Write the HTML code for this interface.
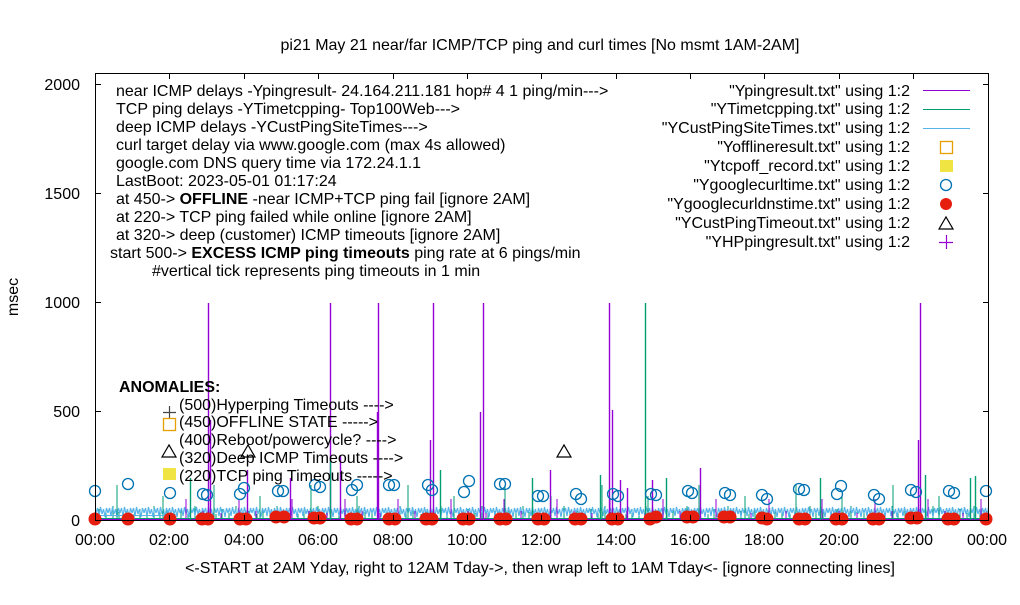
<!DOCTYPE html>
<html><head><meta charset="utf-8"><style>
body{margin:0;background:#fff}
svg{font-family:"Liberation Sans",sans-serif;font-size:16px}
</style></head><body>
<svg width="1020" height="600" xmlns="http://www.w3.org/2000/svg">
<defs>
<pattern id="pg" x="0" y="461" width="41" height="60" patternUnits="userSpaceOnUse">
<path d="M3 60V50M11 60V53M17 60V48M24 60V52M31 60V45M37 60V51" stroke="#009e73" stroke-width="1"/>
</pattern>
<pattern id="pg2" x="0" y="461" width="97" height="60" patternUnits="userSpaceOnUse">
<path d="M20 60V24M66 60V35" stroke="#009e73" stroke-width="1"/>
</pattern>
<pattern id="pc" x="0" y="461" width="12" height="60" patternUnits="userSpaceOnUse">
<path d="M0 52 L1.5 47 L3 55 L4.5 46 L6 53 L7.5 48 L9 56 L10.5 47 L12 52" fill="none" stroke="#56b4e9" stroke-width="1.2"/>
</pattern>
<pattern id="pp" x="0" y="461" width="53" height="60" patternUnits="userSpaceOnUse">
<path d="M9 60V52M27 60V38M44 60V50" stroke="#9400d3" stroke-width="1"/>
</pattern>
</defs>
<rect width="1020" height="600" fill="#fff"/>
<!-- noise bands -->
<rect x="96" y="461" width="892" height="60" fill="url(#pg)"/>
<rect x="96" y="461" width="892" height="60" fill="url(#pc)"/>
<rect x="96" y="461" width="892" height="60" fill="url(#pg2)"/>
<rect x="180" y="461" width="808" height="60" fill="url(#pp)"/>
<line x1="96" y1="515.5" x2="170" y2="515.5" stroke="#56b4e9"/>
<line x1="96" y1="518.5" x2="988" y2="518.5" stroke="#009e73"/>
<line x1="96" y1="519.5" x2="988" y2="519.5" stroke="#9400d3"/>
<!-- spikes -->
<g stroke-width="1.4">
<g stroke="#9400d3">
<path d="M208.5 521V303M330.5 521V303M378.5 521V303M433.5 521V303M483.5 521V303M609.5 521V303M920.5 521V303"/>
<path d="M480.5 521V412M210.5 521V420M377.5 521V412M247.5 521V470M290.5 521V478M340.5 521V455M550.5 521V470M700.5 521V468M430.5 521V440M612.5 521V410M918.5 521V440M652.5 521V480M620.5 521V480M627.5 521V488"/>
</g>
<g stroke="#009e73">
<path d="M645.5 521V303M330.5 521V460M440.5 521V470M975.5 521V476M925.5 521V475M190.5 521V478M600.5 521V475M820.5 521V478M970.5 521V478M532.5 521V478M666.5 521V478"/>
</g>
</g>
<!-- blue circles -->
<g fill="none" stroke="#0072b2" stroke-width="1.3">
<circle cx="95" cy="491" r="5.5"/><circle cx="128" cy="484" r="5.5"/><circle cx="170" cy="493" r="5.5"/><circle cx="203" cy="494" r="5.5"/><circle cx="207" cy="495" r="5.5"/>
<circle cx="240" cy="494" r="5.5"/><circle cx="244" cy="488" r="5.5"/><circle cx="278" cy="491" r="5.5"/><circle cx="283" cy="491" r="5.5"/><circle cx="315" cy="485" r="5.5"/><circle cx="320" cy="487" r="5.5"/>
<circle cx="352" cy="490" r="5.5"/><circle cx="357" cy="485" r="5.5"/><circle cx="389" cy="485" r="5.5"/><circle cx="394" cy="485" r="5.5"/><circle cx="428" cy="485" r="5.5"/><circle cx="432" cy="490" r="5.5"/>
<circle cx="464" cy="492" r="5.5"/><circle cx="469" cy="481" r="5.5"/><circle cx="500" cy="484" r="5.5"/><circle cx="505" cy="484" r="5.5"/><circle cx="538" cy="496" r="5.5"/><circle cx="543" cy="496" r="5.5"/>
<circle cx="576" cy="494" r="5.5"/><circle cx="581" cy="499" r="5.5"/><circle cx="613" cy="494" r="5.5"/><circle cx="618" cy="496" r="5.5"/><circle cx="651" cy="494" r="5.5"/><circle cx="656" cy="495" r="5.5"/>
<circle cx="688" cy="491" r="5.5"/><circle cx="692" cy="493" r="5.5"/><circle cx="725" cy="493" r="5.5"/><circle cx="730" cy="495" r="5.5"/><circle cx="762" cy="495" r="5.5"/><circle cx="767" cy="499" r="5.5"/>
<circle cx="799" cy="489" r="5.5"/><circle cx="804" cy="490" r="5.5"/><circle cx="837" cy="494" r="5.5"/><circle cx="841" cy="486" r="5.5"/><circle cx="874" cy="495" r="5.5"/><circle cx="879" cy="499" r="5.5"/>
<circle cx="911" cy="490" r="5.5"/><circle cx="916" cy="492" r="5.5"/><circle cx="949" cy="491" r="5.5"/><circle cx="954" cy="493" r="5.5"/><circle cx="986" cy="491" r="5.5"/>
</g>
<!-- red dots -->
<g fill="#e51e10">
<circle cx="95" cy="519" r="6.5"/><circle cx="128" cy="519" r="6.5"/><circle cx="170" cy="519" r="6.5"/>
<circle cx="202" cy="519" r="6.5"/><circle cx="208" cy="519" r="6.5"/><circle cx="240" cy="519" r="6.5"/><circle cx="246" cy="519" r="6.5"/>
<circle cx="276" cy="517" r="6.5"/><circle cx="284" cy="517" r="6.5"/><circle cx="314" cy="518" r="6.5"/><circle cx="320" cy="518" r="6.5"/>
<circle cx="351" cy="519" r="6.5"/><circle cx="357" cy="519" r="6.5"/><circle cx="389" cy="519" r="6.5"/><circle cx="395" cy="519" r="6.5"/>
<circle cx="426" cy="519" r="6.5"/><circle cx="432" cy="519" r="6.5"/><circle cx="463" cy="519" r="6.5"/><circle cx="469" cy="519" r="6.5"/>
<circle cx="500" cy="519" r="6.5"/><circle cx="506" cy="519" r="6.5"/><circle cx="538" cy="519" r="6.5"/><circle cx="544" cy="519" r="6.5"/>
<circle cx="575" cy="519" r="6.5"/><circle cx="581" cy="519" r="6.5"/><circle cx="612" cy="519" r="6.5"/><circle cx="618" cy="519" r="6.5"/>
<circle cx="650" cy="519" r="6.5"/><circle cx="656" cy="517" r="6.5"/><circle cx="687" cy="517" r="6.5"/><circle cx="693" cy="517" r="6.5"/>
<circle cx="724" cy="517" r="6.5"/><circle cx="730" cy="517" r="6.5"/><circle cx="762" cy="518" r="6.5"/><circle cx="767" cy="519" r="6.5"/>
<circle cx="799" cy="519" r="6.5"/><circle cx="805" cy="519" r="6.5"/><circle cx="836" cy="519" r="6.5"/><circle cx="842" cy="519" r="6.5"/>
<circle cx="873" cy="519" r="6.5"/><circle cx="879" cy="519" r="6.5"/><circle cx="911" cy="518" r="6.5"/><circle cx="917" cy="518" r="6.5"/>
<circle cx="948" cy="519" r="6.5"/><circle cx="954" cy="519" r="6.5"/><circle cx="986" cy="519" r="6.5"/>
</g>
<!-- frame -->
<rect x="95.5" y="73.5" width="893" height="447" fill="none" stroke="#000" stroke-width="1"/>
<g stroke="#000">
<path d="M95 84.5h6M95 193.5h6M95 302.5h6M95 411.5h6M989 84.5h-6M989 193.5h-6M989 302.5h-6M989 411.5h-6"/>
<path d="M169.5 521v-6M244.5 521v-6M318.5 521v-6M393.5 521v-6M467.5 521v-6M541.5 521v-6M616.5 521v-6M690.5 521v-6M764.5 521v-6M839.5 521v-6M913.5 521v-6"/>
<path d="M169.5 73v6M244.5 73v6M318.5 73v6M393.5 73v6M467.5 73v6M541.5 73v6M616.5 73v6M690.5 73v6M764.5 73v6M839.5 73v6M913.5 73v6"/>
</g>
<text x="540" y="50" text-anchor="middle">pi21 May 21  near/far ICMP/TCP ping and curl times [No msmt 1AM-2AM]</text>
<text x="18" y="297" text-anchor="middle" transform="rotate(-90 18 297)">msec</text>
<text x="540" y="573" text-anchor="middle">&lt;-START at 2AM Yday, right to 12AM Tday-&gt;, then wrap left to 1AM Tday&lt;- [ignore connecting lines]</text>
<g text-anchor="end">
<text x="80" y="90">2000</text><text x="80" y="199">1500</text><text x="80" y="308">1000</text><text x="80" y="417">500</text><text x="80" y="526">0</text>
</g>
<g text-anchor="middle">
<text x="95" y="545">00:00</text><text x="169" y="545">02:00</text><text x="244" y="545">04:00</text><text x="318" y="545">06:00</text><text x="393" y="545">08:00</text><text x="467" y="545">10:00</text><text x="541" y="545">12:00</text><text x="616" y="545">14:00</text><text x="690" y="545">16:00</text><text x="764" y="545">18:00</text><text x="839" y="545">20:00</text><text x="913" y="545">22:00</text><text x="987" y="545">00:00</text>
</g>
<g>
<text x="116" y="96">near ICMP delays -Ypingresult- 24.164.211.181 hop# 4 1 ping/min---&gt;</text>
<text x="116" y="114">TCP ping delays -YTimetcpping- Top100Web---&gt;</text>
<text x="116" y="132">deep ICMP delays -YCustPingSiteTimes---&gt;</text>
<text x="116" y="150">curl target delay via www.google.com (max 4s allowed)</text>
<text x="116" y="168">google.com DNS query time via 172.24.1.1</text>
<text x="116" y="186">LastBoot: 2023-05-01 01:17:24</text>
<text x="116" y="204">at 450-&gt;  <tspan font-weight="bold">OFFLINE</tspan> -near ICMP+TCP ping fail [ignore 2AM]</text>
<text x="116" y="222">at 220-&gt; TCP ping failed while online [ignore 2AM]</text>
<text x="116" y="240">at 320-&gt; deep (customer) ICMP timeouts [ignore 2AM]</text>
<text x="110" y="258">start 500-&gt;  <tspan font-weight="bold">EXCESS ICMP ping timeouts</tspan>  ping rate at 6 pings/min</text>
<text x="152" y="276">#vertical tick represents ping timeouts in 1 min</text>
<text x="119" y="392" font-weight="bold">ANOMALIES:</text>
<text x="179" y="410">(500)Hyperping Timeouts ----&gt;</text>
<text x="179" y="427">(450)OFFLINE STATE -----&gt;</text>
<text x="179" y="445">(400)Reboot/powercycle? ----&gt;</text>
<text x="179" y="463">(320)Deep ICMP Timeouts ----&gt;</text>
<text x="179" y="481">(220)TCP ping Timeouts -----&gt;</text>
</g>
<g text-anchor="end">
<text x="910" y="96">"Ypingresult.txt" using 1:2</text>
<text x="910" y="114">"YTimetcpping.txt" using 1:2</text>
<text x="910" y="133">"YCustPingSiteTimes.txt" using 1:2</text>
<text x="910" y="152">"Yofflineresult.txt" using 1:2</text>
<text x="910" y="171">"Ytcpoff_record.txt" using 1:2</text>
<text x="910" y="190">"Ygooglecurltime.txt" using 1:2</text>
<text x="910" y="209">"Ygooglecurldnstime.txt" using 1:2</text>
<text x="910" y="228">"YCustPingTimeout.txt" using 1:2</text>
<text x="910" y="247">"YHPpingresult.txt" using 1:2</text>
</g>
<line x1="923" y1="90.5" x2="970" y2="90.5" stroke="#9400d3"/>
<line x1="923" y1="109.5" x2="970" y2="109.5" stroke="#009e73"/>
<line x1="923" y1="128.5" x2="970" y2="128.5" stroke="#56b4e9"/>
<rect x="940.5" y="141.5" width="12" height="12" fill="none" stroke="#e69f00" stroke-width="1.3"/>
<rect x="940" y="160" width="13" height="12" fill="#f0e442"/>
<circle cx="946" cy="185" r="5.5" fill="none" stroke="#0072b2" stroke-width="1.3"/>
<circle cx="946" cy="204" r="6" fill="#e51e10"/>
<path d="M939 229 L946 217 L953 229 Z" fill="none" stroke="#000" stroke-width="1.2"/>
<path d="M939 242.5 H953 M946.5 235 V249" stroke="#9400d3" stroke-width="1.2"/>
<path d="M163 412.5 H176 M169.5 406 V419" stroke="#444" stroke-width="1.2"/>
<rect x="163.5" y="418.5" width="12" height="12" fill="none" stroke="#e69f00" stroke-width="1.3"/>
<path d="M162 457 L169 445 L176 457 Z" fill="none" stroke="#000" stroke-width="1.2"/>
<path d="M241 457 L248 445 L255 457 Z" fill="none" stroke="#000" stroke-width="1.2"/>
<path d="M557 457 L564 445 L571 457 Z" fill="none" stroke="#000" stroke-width="1.2"/>
<rect x="163" y="468" width="13" height="12" fill="#f0e442"/>
</svg>
</body></html>
